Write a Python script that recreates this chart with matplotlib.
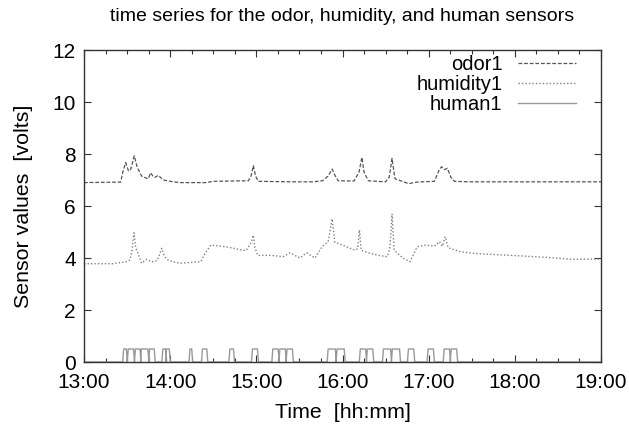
import matplotlib
matplotlib.use("Agg")
import matplotlib.pyplot as plt
import numpy as np
from matplotlib.ticker import MultipleLocator, FixedLocator

plt.rcParams['font.family'] = ['Liberation Sans', 'DejaVu Sans']

# minutes after 13:00
odor_t = [0, 25.5, 27, 29, 31, 32.5, 35, 37, 40.1, 43, 44.8, 46.4, 48, 49.4, 51.7, 55.2,
          62, 66.8, 85.4, 90, 114.4, 116.3, 117.9, 119.5, 121.3, 145, 159.6, 166, 170,
          172.8, 175, 177, 188, 191.5, 193.5, 195, 198, 210, 212.5, 214.5, 216.5, 220,
          226, 232, 244, 247, 249, 251, 253, 255.5, 258, 268, 360]
odor_v = [6.9, 6.92, 7.3, 7.67, 7.35, 7.4, 7.93, 7.5, 7.15, 7.08, 7.05, 7.28, 7.15, 7.1,
          7.18, 7.0, 6.93, 6.9, 6.9, 6.95, 6.97, 7.15, 7.55, 7.15, 6.95, 6.93, 6.93, 6.97,
          7.15, 7.42, 7.15, 6.97, 6.96, 7.3, 7.87, 7.3, 6.97, 6.93, 7.1, 7.83, 7.05, 6.98,
          6.86, 6.92, 6.95, 7.35, 7.51, 7.4, 7.45, 7.1, 6.95, 6.93, 6.93]

hum_t = [0, 20, 29, 32, 33.5, 34.8, 36, 37.5, 40.1, 43.5, 47, 51, 53, 54.1, 55.8, 57.5,
         62, 66.8, 75, 81.4, 84.5, 88.4, 100, 108, 112.8, 116.5, 117.9, 119, 121, 130,
         138.7, 143.4, 150.3, 155, 160.8, 166, 170, 172.8, 174.7, 180, 188.6, 190.5,
         191.8, 193, 197.8, 205, 211.1, 213, 214.5, 216, 222, 227, 232, 238, 244, 247.5,
         249.5, 251.5, 253.5, 262, 273, 297, 321, 340, 360]
hum_v = [3.78, 3.78, 3.85, 3.92, 4.3, 4.97, 4.4, 4.2, 3.8, 3.95, 3.85, 3.9, 4.2, 4.37,
         4.1, 3.95, 3.85, 3.8, 3.83, 3.86, 4.2, 4.5, 4.42, 4.33, 4.28, 4.6, 4.88, 4.4,
         4.1, 4.1, 4.05, 4.2, 4.0, 4.2, 4.0, 4.45, 4.63, 5.5, 4.6, 4.5, 4.3, 4.35, 5.08,
         4.3, 4.2, 4.1, 4.05, 4.4, 5.7, 4.3, 4.0, 3.86, 4.43, 4.5, 4.45, 4.63, 4.45, 4.82,
         4.4, 4.24, 4.17, 4.1, 4.03, 3.95, 3.96]

# human sensor on-intervals (minutes after 13:00)
human_on = [27.6, 30.8, 35.8, 40.0, 45.7, 54.9, 57.4, 73.8, 82.5, 101.6, 117.3, 131.5,
            136.4, 141.4, 170.0, 176.2, 192.4, 197.3, 208.5, 214.7, 225.9, 239.6, 250.8,
            255.7]
human_off = [29.5, 34.5, 39.0, 44.5, 48.9, 56.9, 59.4, 75.0, 85.5, 104.1, 120.8, 135.2,
             140.2, 145.1, 175.0, 181.2, 196.1, 201.1, 213.5, 219.7, 229.6, 243.3, 254.5,
             259.5]
human_level = 0.5

xtick_labels = ["13:00", "14:00", "15:00", "16:00", "17:00", "18:00", "19:00"]

# build human step trace
ht = [0.0]
hv = [0.0]
ramp = 0.7
for a, b in zip(human_on, human_off):
    ht += [a - ramp, a, b, b + ramp]
    hv += [0.0, human_level, human_level, 0.0]
ht.append(360.0)
hv.append(0.0)

fig = plt.figure(figsize=(6.29, 4.25), dpi=100)
ax = fig.add_axes([84 / 629, 63 / 425, 517 / 629, 312 / 425])

to_h = lambda arr: 13 + np.asarray(arr, dtype=float) / 60.0

ax.plot(to_h(odor_t), odor_v, color='#555555', lw=0.9, ls=(0, (3, 1.5)), label='odor1')
ax.plot(to_h(hum_t), hum_v, color='#808080', lw=1.0, ls=(0, (1, 1.5)), label='humidity1')
ax.plot(to_h(ht), hv, color='#999999', lw=1.0, ls='-', label='human1')

ax.set_xlim(13, 19)
ax.set_ylim(0, 12)
ax.xaxis.set_major_locator(FixedLocator(range(13, 20)))
ax.set_xticklabels(xtick_labels)
ax.xaxis.set_minor_locator(MultipleLocator(0.25))
ax.yaxis.set_major_locator(MultipleLocator(2))
ax.tick_params(which='both', direction='in', top=True, right=True, labelsize=15,
               color='#333333')
ax.tick_params(axis='x', pad=8)
ax.tick_params(axis='y', pad=6)
ax.tick_params(which='major', length=5, width=0.8)
ax.tick_params(which='minor', length=2.8, width=0.8)
for s in ax.spines.values():
    s.set_linewidth(1.0)
    s.set_color('#333333')

ax.set_xlabel('Time  [hh:mm]', fontsize=15.4, labelpad=8)
ax.set_ylabel('Sensor values  [volts]', fontsize=15.4, labelpad=14)
ax.set_title('time series for the odor, humidity, and human sensors', fontsize=14, pad=21)

leg = ax.legend(loc='upper right', bbox_to_anchor=(0.9516, 0.985), frameon=False,
                markerfirst=False, fontsize=14.5, handlelength=2.9, handletextpad=0.75,
                labelspacing=0.05, borderpad=0, borderaxespad=0)
for t in leg.get_texts():
    t.set_ha('right')

fig.savefig('out.png', dpi=100)
